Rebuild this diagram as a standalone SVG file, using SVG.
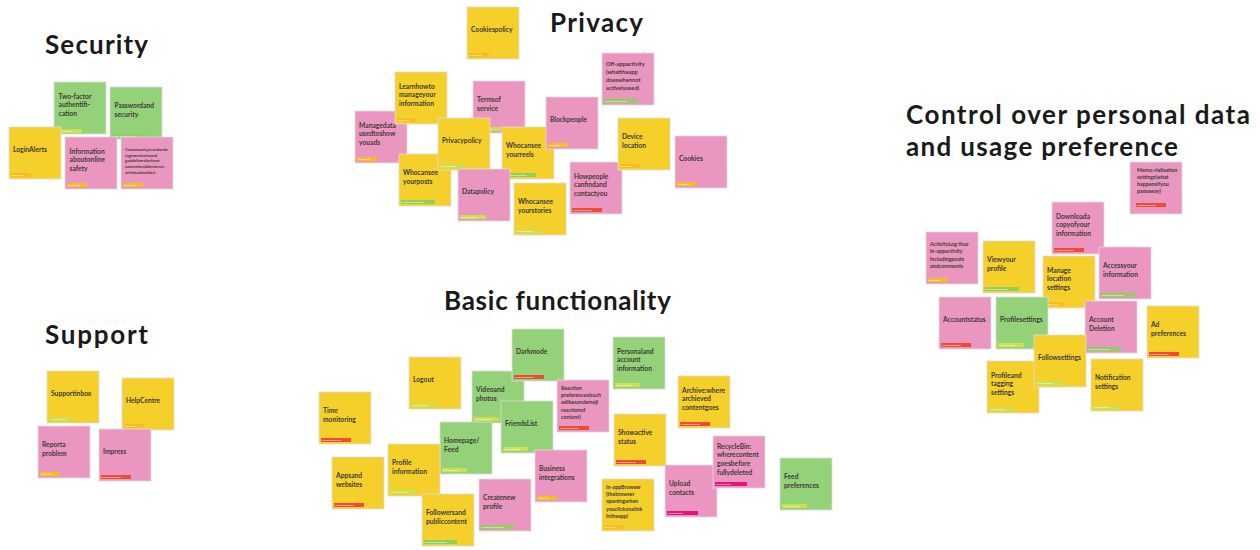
<svg xmlns="http://www.w3.org/2000/svg" width="1260" height="550" viewBox="0 0 1260 550">
<style>
.bg{fill:#ffffff}
.h{font-family:Lato,"Liberation Sans",sans-serif;font-weight:700;font-size:26px;fill:#1a1a1a}
.note rect.b{stroke:#dcdcdc;stroke-width:0.8}
.y{fill:#F5D02B}.p{fill:#EB96C1}.g{fill:#94D279}
.t{font-family:Lato,"Liberation Sans",sans-serif;font-weight:700;font-size:6.7px;fill:#3d3a36}
.sm{font-size:5.3px}.xs{font-size:4.5px}.md{font-size:5.7px}
.ti{fill:#F7BD1F}.tv{fill:#CBE04B}.te{fill:#8DD05C}.ts{fill:#EE4B36}.tn{fill:#E0157B}
.tt{font-family:Lato,"Liberation Sans",sans-serif;font-size:2.3px;fill:#ffffff}
</style>
<rect class="bg" x="0" y="0" width="1260" height="550"/>
<g id="titles">
<text class="h" x="45" y="54" textLength="103">Security</text>
<text class="h" x="550" y="32" textLength="93">Privacy</text>
<text class="h" x="45" y="344" textLength="103">Support</text>
<text class="h" x="444" y="310" textLength="227">Basic functionality</text>
<text class="h" x="906" y="124" textLength="344">Control over personal data</text>
<text class="h" x="906" y="156" textLength="272">and usage preference</text>
</g>
<g id="connectors"></g>

<!-- Security -->
<g id="n-two-factor" class="note"><rect class="b g" x="54" y="82" width="52" height="52"/><text class="t"><tspan x="58.5" y="99">Two-factor</tspan><tspan x="58.5" y="107.4">authentifi-</tspan><tspan x="58.5" y="115.8">cation</tspan></text><rect class="tv" x="56" y="129" width="26" height="4"/><text class="tt" x="57" y="131.8">Isveryimportant</text></g>
<g id="n-password" class="note"><rect class="b g" x="110" y="87" width="52" height="52"/><text class="t"><tspan x="114.5" y="108.2">Passwordand</tspan><tspan x="114.5" y="116.6">security</tspan></text><rect class="te" x="112" y="134" width="33" height="4"/><text class="tt" x="113" y="136.8">Isextremelyimportant</text></g>
<g id="n-login" class="note"><rect class="b y" x="9" y="127" width="52" height="52"/><text class="t"><tspan x="13" y="152.4">LoginAlerts</tspan></text><rect class="ti" x="11" y="173" width="20" height="4"/><text class="tt" x="12" y="175.8">Isimportant</text></g>
<g id="n-info-safety" class="note"><rect class="b p" x="65" y="137" width="52" height="52"/><text class="t"><tspan x="69.5" y="154">Information</tspan><tspan x="69.5" y="162.4">aboutonline</tspan><tspan x="69.5" y="170.8">safety</tspan></text><rect class="ti" x="67" y="183" width="20" height="4"/><text class="tt" x="68" y="185.8">Isimportant</text></g>
<g id="n-community" class="note"><rect class="b p" x="121" y="137" width="52" height="52"/><text class="t xs"><tspan x="125" y="150.8">Communitystandards</tspan><tspan x="125" y="156.6">(agreementsand</tspan><tspan x="125" y="162.4">guidelinesforhow</tspan><tspan x="125" y="168.2">usersshouldinteract</tspan><tspan x="125" y="174">witheachother)</tspan></text><rect class="ti" x="123" y="183" width="20" height="4"/><text class="tt" x="124" y="185.8">Isimportant</text></g>

<!-- Privacy -->
<g id="n-cookies-policy" class="note"><rect class="b y" x="467" y="7" width="52" height="52"/><text class="t"><tspan x="471" y="32.4">Cookiespolicy</tspan></text><rect class="ti" x="469" y="53" width="20" height="4"/><text class="tt" x="470" y="55.8">Isimportant</text></g>
<g id="n-manage-data" class="note"><rect class="b p" x="355" y="111" width="52" height="52"/><text class="t"><tspan x="359" y="128">Managedata</tspan><tspan x="359" y="136.4">usedtoshow</tspan><tspan x="359" y="144.8">youads</tspan></text><rect class="ti" x="357" y="157" width="20" height="4"/><text class="tt" x="358" y="159.8">Isimportant</text></g>
<g id="n-learn" class="note"><rect class="b y" x="395" y="72" width="52" height="52"/><text class="t"><tspan x="399" y="89">Learnhowto</tspan><tspan x="399" y="97.4">manageyour</tspan><tspan x="399" y="105.8">information</tspan></text><rect class="ti" x="397" y="118" width="20" height="4"/><text class="tt" x="398" y="120.8">Isimportant</text></g>
<g id="n-terms" class="note"><rect class="b p" x="473" y="81" width="52" height="52"/><text class="t"><tspan x="477" y="102.2">Termsof</tspan><tspan x="477" y="110.6">service</tspan></text><rect class="tv" x="475" y="127" width="26" height="4"/><text class="tt" x="476" y="129.8">Isveryimportant</text></g>
<g id="n-posts" class="note"><rect class="b y" x="399" y="154" width="52" height="52"/><text class="t"><tspan x="403" y="175.2">Whocansee</tspan><tspan x="403" y="183.6">yourposts</tspan></text><rect class="te" x="401" y="200" width="34" height="4"/><text class="tt" x="402" y="202.8">Isextremelyimportant</text></g>
<g id="n-privacy-policy" class="note"><rect class="b y" x="438" y="118" width="52" height="52"/><text class="t"><tspan x="442" y="143.4">Privacypolicy</tspan></text><rect class="tv" x="440" y="164" width="26" height="4"/><text class="tt" x="441" y="166.8">Isveryimportant</text></g>
<g id="n-reels" class="note"><rect class="b y" x="502" y="127" width="52" height="52"/><text class="t"><tspan x="506" y="148.2">Whocansee</tspan><tspan x="506" y="156.6">yourreels</tspan></text><rect class="te" x="504" y="173" width="32" height="4"/><text class="tt" x="505" y="175.8">Isextremelyimportant</text></g>
<g id="n-data-policy" class="note"><rect class="b p" x="458" y="169" width="52" height="52"/><text class="t"><tspan x="462" y="194.4">Datapolicy</tspan></text><rect class="tv" x="460" y="215" width="26" height="4"/><text class="tt" x="461" y="217.8">Isveryimportant</text></g>
<g id="n-block" class="note"><rect class="b p" x="546" y="97" width="52" height="52"/><text class="t"><tspan x="550" y="122.4">Blockpeople</tspan></text><rect class="ti" x="548" y="143" width="20" height="4"/><text class="tt" x="549" y="145.8">Isimportant</text></g>
<g id="n-stories" class="note"><rect class="b y" x="514" y="183" width="52" height="52"/><text class="t"><tspan x="518" y="204.2">Whocansee</tspan><tspan x="518" y="212.6">yourstories</tspan></text><rect class="tv" x="516" y="229" width="26" height="4"/><text class="tt" x="517" y="231.8">Isveryimportant</text></g>
<g id="n-off-app" class="note"><rect class="b p" x="602" y="53" width="52" height="52"/><text class="t md"><tspan x="606" y="66">Off-appactivity</tspan><tspan x="606" y="74">(whattheapp</tspan><tspan x="606" y="82">doeswhennot</tspan><tspan x="606" y="90">activelyused)</tspan></text><rect class="te" x="604" y="99" width="34" height="4"/><text class="tt" x="605" y="101.8">Isextremelyimportant</text></g>
<g id="n-how-people" class="note"><rect class="b p" x="570" y="162" width="52" height="52"/><text class="t"><tspan x="574" y="179">Howpeople</tspan><tspan x="574" y="187.4">canfindand</tspan><tspan x="574" y="195.8">contactyou</tspan></text><rect class="ts" x="572" y="208" width="30" height="4"/><text class="tt" x="573" y="210.8">Isslightlyimportant</text></g>
<g id="n-device" class="note"><rect class="b y" x="618" y="118" width="52" height="52"/><text class="t"><tspan x="622" y="139.2">Device</tspan><tspan x="622" y="147.6">location</tspan></text><rect class="ti" x="620" y="164" width="20" height="4"/><text class="tt" x="621" y="166.8">Isimportant</text></g>
<g id="n-cookies" class="note"><rect class="b p" x="675" y="136" width="52" height="52"/><text class="t"><tspan x="679" y="161.4">Cookies</tspan></text><rect class="ti" x="677" y="182" width="20" height="4"/><text class="tt" x="678" y="184.8">Isimportant</text></g>

<!-- Support -->
<g id="n-support-inbox" class="note"><rect class="b y" x="47" y="371" width="52" height="52"/><text class="t"><tspan x="51" y="396.4">Supportinbox</tspan></text><rect class="tv" x="49" y="417" width="25" height="4"/><text class="tt" x="50" y="419.8">Isveryimportant</text></g>
<g id="n-help-centre" class="note"><rect class="b y" x="122" y="378" width="52" height="52"/><text class="t"><tspan x="126" y="403.4">HelpCentre</tspan></text><rect class="ti" x="124" y="424" width="20" height="4"/><text class="tt" x="125" y="426.8">Isimportant</text></g>
<g id="n-report" class="note"><rect class="b p" x="38" y="426" width="52" height="52"/><text class="t"><tspan x="42" y="447.2">Reporta</tspan><tspan x="42" y="455.6">problem</tspan></text><rect class="ti" x="40" y="472" width="20" height="4"/><text class="tt" x="41" y="474.8">Isimportant</text></g>
<g id="n-impress" class="note"><rect class="b p" x="99" y="429" width="52" height="52"/><text class="t"><tspan x="103" y="454.4">Impress</tspan></text><rect class="ts" x="101" y="475" width="30" height="4"/><text class="tt" x="102" y="477.8">Isslightlyimportant</text></g>

<!-- Basic functionality -->
<g id="n-logout" class="note"><rect class="b y" x="409" y="357" width="52" height="52"/><text class="t"><tspan x="413" y="382.4">Logout</tspan></text><rect class="tv" x="411" y="403" width="25" height="4"/><text class="tt" x="412" y="405.8">Isveryimportant</text></g>
<g id="n-time" class="note"><rect class="b y" x="319" y="392" width="52" height="52"/><text class="t"><tspan x="323" y="413.2">Time</tspan><tspan x="323" y="421.6">monitoring</tspan></text><rect class="ts" x="321" y="438" width="30" height="4"/><text class="tt" x="322" y="440.8">Isslightlyimportant</text></g>
<g id="n-video" class="note"><rect class="b g" x="472" y="371" width="52" height="52"/><text class="t"><tspan x="476" y="392.2">Videoand</tspan><tspan x="476" y="400.6">photos</tspan></text><rect class="tv" x="474" y="417" width="25" height="4"/><text class="tt" x="475" y="419.8">Isveryimportant</text></g>
<g id="n-friends" class="note"><rect class="b g" x="501" y="401" width="52" height="52"/><text class="t"><tspan x="505" y="426.4">FriendsList</tspan></text><rect class="tv" x="503" y="447" width="25" height="4"/><text class="tt" x="504" y="449.8">Isveryimportant</text></g>
<g id="n-homepage" class="note"><rect class="b g" x="440" y="422" width="52" height="52"/><text class="t"><tspan x="444" y="443.2">Homepage/</tspan><tspan x="444" y="451.6">Feed</tspan></text><rect class="tv" x="442" y="468" width="25" height="4"/><text class="tt" x="443" y="470.8">Isveryimportant</text></g>
<g id="n-apps" class="note"><rect class="b y" x="332" y="457" width="52" height="52"/><text class="t"><tspan x="336" y="478.2">Appsand</tspan><tspan x="336" y="486.6">websites</tspan></text><rect class="ts" x="334" y="503" width="30" height="4"/><text class="tt" x="335" y="505.8">Isslightlyimportant</text></g>
<g id="n-profile-info" class="note"><rect class="b y" x="388" y="444" width="52" height="52"/><text class="t"><tspan x="392" y="465.2">Profile</tspan><tspan x="392" y="473.6">information</tspan></text><rect class="tv" x="390" y="490" width="25" height="4"/><text class="tt" x="391" y="492.8">Isveryimportant</text></g>
<g id="n-followers" class="note"><rect class="b y" x="422" y="494" width="52" height="52"/><text class="t"><tspan x="426" y="515.2">Followersand</tspan><tspan x="426" y="523.6">publiccontent</tspan></text><rect class="te" x="424" y="540" width="33" height="4"/><text class="tt" x="425" y="542.8">Isextremelyimportant</text></g>
<g id="n-create-profile" class="note"><rect class="b p" x="479" y="479" width="52" height="52"/><text class="t"><tspan x="483" y="500.2">Createnew</tspan><tspan x="483" y="508.6">profile</tspan></text><rect class="te" x="481" y="525" width="33" height="4"/><text class="tt" x="482" y="527.8">Isextremelyimportant</text></g>
<g id="n-dark-mode" class="note"><rect class="b g" x="512" y="329" width="52" height="52"/><text class="t"><tspan x="516" y="354.4">Darkmode</tspan></text><rect class="ts" x="514" y="375" width="30" height="4"/><text class="tt" x="515" y="377.8">Isslightlyimportant</text></g>
<g id="n-reaction" class="note"><rect class="b p" x="557" y="380" width="52" height="52"/><text class="t sm"><tspan x="561" y="390">Reaction</tspan><tspan x="561" y="397.2">preferences(such</tspan><tspan x="561" y="404.4">aslikesandemoji</tspan><tspan x="561" y="411.6">reactionof</tspan><tspan x="561" y="418.8">content)</tspan></text><rect class="ts" x="559" y="426" width="30" height="4"/><text class="tt" x="560" y="428.8">Isslightlyimportant</text></g>
<g id="n-business" class="note"><rect class="b p" x="535" y="450" width="52" height="52"/><text class="t"><tspan x="539" y="471.2">Business</tspan><tspan x="539" y="479.6">integrations</tspan></text><rect class="ti" x="537" y="496" width="20" height="4"/><text class="tt" x="538" y="498.8">Isimportant</text></g>
<g id="n-personal" class="note"><rect class="b g" x="613" y="337" width="52" height="52"/><text class="t"><tspan x="617" y="354">Personaland</tspan><tspan x="617" y="362.4">account</tspan><tspan x="617" y="370.8">information</tspan></text><rect class="tv" x="615" y="383" width="25" height="4"/><text class="tt" x="616" y="385.8">Isveryimportant</text></g>
<g id="n-show-active" class="note"><rect class="b y" x="614" y="414" width="52" height="52"/><text class="t"><tspan x="618" y="435.2">Showactive</tspan><tspan x="618" y="443.6">status</tspan></text><rect class="ts" x="616" y="460" width="30" height="4"/><text class="tt" x="617" y="462.8">Isslightlyimportant</text></g>
<g id="n-in-app" class="note"><rect class="b y" x="602" y="479" width="52" height="52"/><text class="t sm"><tspan x="606" y="489">In-appBrowser</tspan><tspan x="606" y="496.2">(thebrowser</tspan><tspan x="606" y="503.4">openingwhen</tspan><tspan x="606" y="510.6">youclickonalink</tspan><tspan x="606" y="517.8">intheapp)</tspan></text><rect class="ti" x="604" y="525" width="20" height="4"/><text class="tt" x="605" y="527.8">Isimportant</text></g>
<g id="n-archive" class="note"><rect class="b y" x="678" y="376" width="52" height="52"/><text class="t"><tspan x="682" y="393">Archive:where</tspan><tspan x="682" y="401.4">archieved</tspan><tspan x="682" y="409.8">contentgoes</tspan></text><rect class="ts" x="680" y="422" width="30" height="4"/><text class="tt" x="681" y="424.8">Isslightlyimportant</text></g>
<g id="n-upload" class="note"><rect class="b p" x="665" y="465" width="52" height="52"/><text class="t"><tspan x="669" y="486.2">Upload</tspan><tspan x="669" y="494.6">contacts</tspan></text><rect class="tn" x="667" y="511" width="31" height="4"/><text class="tt" x="668" y="513.8">Isnotimportant</text></g>
<g id="n-recycle" class="note"><rect class="b p" x="713" y="436" width="52" height="52"/><text class="t"><tspan x="717" y="448.8">RecycleBin:</tspan><tspan x="717" y="457.4">wherecontent</tspan><tspan x="717" y="466">goesbefore</tspan><tspan x="717" y="474.6">fullydeleted</tspan></text><rect class="tn" x="715" y="482" width="32" height="4"/><text class="tt" x="716" y="484.8">Isnotimportant</text></g>
<g id="n-feed-pref" class="note"><rect class="b g" x="780" y="458" width="52" height="52"/><text class="t"><tspan x="784" y="479.2">Feed</tspan><tspan x="784" y="487.6">preferences</tspan></text><rect class="tv" x="782" y="504" width="25" height="4"/><text class="tt" x="783" y="506.8">Isveryimportant</text></g>

<!-- Control over personal data -->
<g id="n-memorial" class="note"><rect class="b p" x="1130" y="162" width="52" height="52"/><text class="t sm"><tspan x="1137" y="172">Memo-rialisation</tspan><tspan x="1137" y="179.1">settings(what</tspan><tspan x="1137" y="186.2">happensifyou</tspan><tspan x="1137" y="193.3">passaway)</tspan></text><rect class="ts" x="1136" y="203" width="30" height="4"/><text class="tt" x="1137" y="205.8">Isslightlyimportant</text></g>
<g id="n-download" class="note"><rect class="b p" x="1052" y="202" width="52" height="52"/><text class="t"><tspan x="1056" y="219">Downloada</tspan><tspan x="1056" y="227.4">copyofyour</tspan><tspan x="1056" y="235.8">information</tspan></text><rect class="ts" x="1054" y="248" width="30" height="4"/><text class="tt" x="1055" y="250.8">Isslightlyimportant</text></g>
<g id="n-activity" class="note"><rect class="b p" x="926" y="232" width="52" height="52"/><text class="t sm"><tspan x="930" y="246">ActivityLog:Your</tspan><tspan x="930" y="253.3">in-appactivity</tspan><tspan x="930" y="260.6">includingposts</tspan><tspan x="930" y="267.9">andcomments</tspan></text><rect class="ti" x="928" y="278" width="20" height="4"/><text class="tt" x="929" y="280.8">Isimportant</text></g>
<g id="n-view-profile" class="note"><rect class="b y" x="983" y="241" width="52" height="52"/><text class="t"><tspan x="987" y="262.2">Viewyour</tspan><tspan x="987" y="270.6">profile</tspan></text><rect class="te" x="985" y="287" width="34" height="4"/><text class="tt" x="986" y="289.8">Isextremelyimportant</text></g>
<g id="n-access" class="note"><rect class="b p" x="1099" y="247" width="52" height="52"/><text class="t"><tspan x="1103" y="268.2">Accessyour</tspan><tspan x="1103" y="276.6">information</tspan></text><rect class="te" x="1101" y="293" width="34" height="4"/><text class="tt" x="1102" y="295.8">Isextremelyimportant</text></g>
<g id="n-manage-location" class="note"><rect class="b y" x="1043" y="256" width="52" height="52"/><text class="t"><tspan x="1047" y="273">Manage</tspan><tspan x="1047" y="281.4">location</tspan><tspan x="1047" y="289.8">settings</tspan></text><rect class="ti" x="1045" y="302" width="20" height="4"/><text class="tt" x="1046" y="304.8">Isimportant</text></g>
<g id="n-account-status" class="note"><rect class="b p" x="939" y="297" width="52" height="52"/><text class="t"><tspan x="943" y="322.4">Accountstatus</tspan></text><rect class="ts" x="941" y="343" width="30" height="4"/><text class="tt" x="942" y="345.8">Isslightlyimportant</text></g>
<g id="n-profile-settings" class="note"><rect class="b g" x="996" y="297" width="52" height="52"/><text class="t"><tspan x="1000" y="322.4">Profilesettings</tspan></text><rect class="tv" x="998" y="343" width="26" height="4"/><text class="tt" x="999" y="345.8">Isveryimportant</text></g>
<g id="n-account-deletion" class="note"><rect class="b p" x="1085" y="301" width="52" height="52"/><text class="t"><tspan x="1089" y="322.2">Account</tspan><tspan x="1089" y="330.6">Deletion</tspan></text><rect class="te" x="1087" y="347" width="34" height="4"/><text class="tt" x="1088" y="349.8">Isextremelyimportant</text></g>
<g id="n-ad-pref" class="note"><rect class="b y" x="1147" y="306" width="52" height="52"/><text class="t"><tspan x="1151" y="327.2">Ad</tspan><tspan x="1151" y="335.6">preferences</tspan></text><rect class="ts" x="1149" y="352" width="30" height="4"/><text class="tt" x="1150" y="354.8">Isslightlyimportant</text></g>
<g id="n-profile-tagging" class="note"><rect class="b y" x="987" y="361" width="52" height="52"/><text class="t"><tspan x="991" y="378">Profileand</tspan><tspan x="991" y="386.4">tagging</tspan><tspan x="991" y="394.8">settings</tspan></text><rect class="tv" x="989" y="407" width="26" height="4"/><text class="tt" x="990" y="409.8">Isveryimportant</text></g>
<g id="n-follow-settings" class="note"><rect class="b y" x="1034" y="335" width="52" height="52"/><text class="t"><tspan x="1038" y="360.4">Followsettings</tspan></text><rect class="tv" x="1036" y="381" width="26" height="4"/><text class="tt" x="1037" y="383.8">Isveryimportant</text></g>
<g id="n-notification" class="note"><rect class="b y" x="1091" y="359" width="52" height="52"/><text class="t"><tspan x="1095" y="380.2">Notification</tspan><tspan x="1095" y="388.6">settings</tspan></text><rect class="tv" x="1093" y="405" width="26" height="4"/><text class="tt" x="1094" y="407.8">Isveryimportant</text></g>
</svg>
